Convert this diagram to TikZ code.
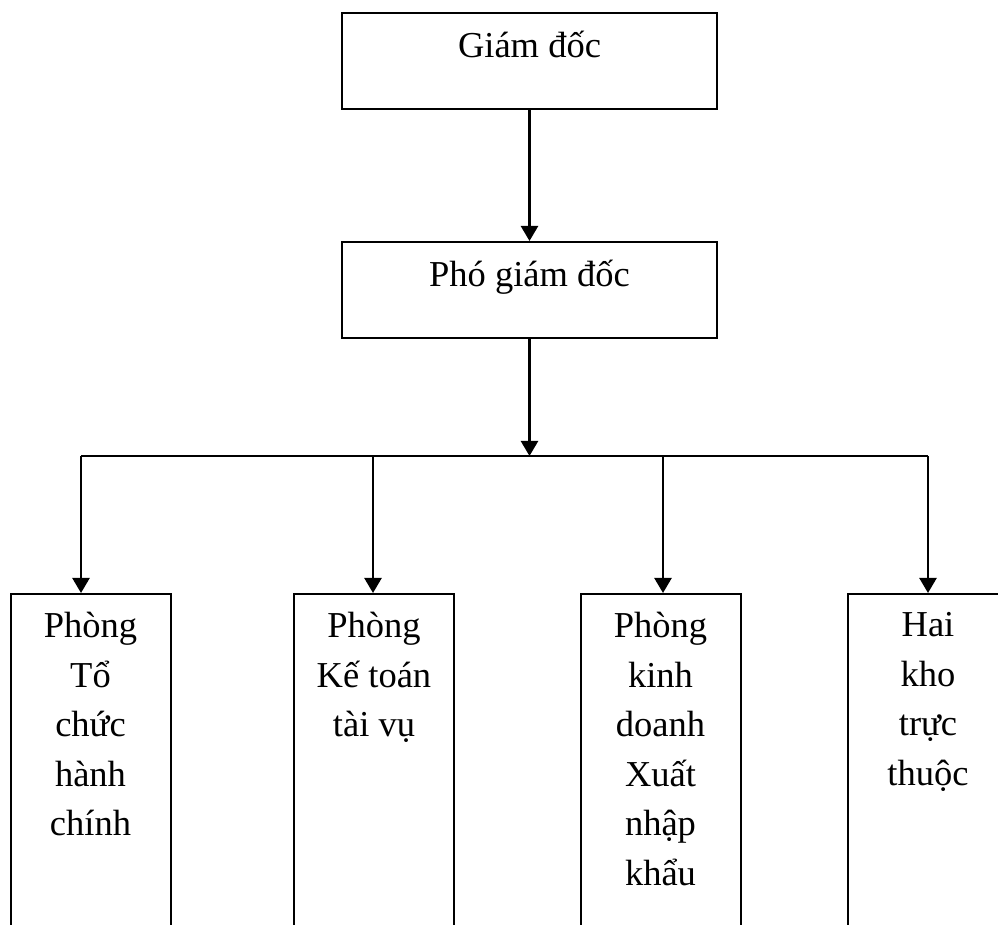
\documentclass[tikz,border=0pt]{standalone}
\usepackage{fontspec}
\setmainfont{Liberation Serif}
\usetikzlibrary{arrows.meta,positioning}

\begin{document}
\begin{tikzpicture}[x=0.5pt,y=-0.5pt,
    box/.style={draw,line width=1pt,minimum width=187.5pt,inner sep=0pt,text height=22.5pt,text depth=25.5pt,font=\fontsize{18.25}{24.75}\selectfont,anchor=north},
    dept/.style={draw,line width=1pt,minimum width=80pt,minimum height=200pt,inner sep=0pt,anchor=north},
    depttext/.style={text width=78pt,align=flush center,inner sep=0pt,font=\fontsize{18.25}{24.75}\selectfont},
    arr/.style={-{Triangle[width=8.5pt,length=7.5pt]},line width=1.2pt},
    bus/.style={line width=1.2pt}
]
\useasboundingbox (0,0) rectangle (998,925);
\clip (0,0) rectangle (998,925);

\node[box] (GD) at (529.5,12) {Giám đốc};
\node[box] (PGD) at (529.5,241) {Phó giám đốc};

\node[dept] (TC) at (90.5,593) {};
\node[dept] (KT) at (374,593) {};
\node[dept] (KD) at (660.5,593) {};
\node[dept] (KHO) at (928,593) {};

\node[depttext,below=9.5pt of TC.north] (TCtext) {Phòng\\Tổ\\chức\\hành\\chính};
\node[depttext,below=9.5pt of KT.north] (KTtext) {Phòng\\Kế toán\\tài vụ};
\node[depttext,below=9.5pt of KD.north] (KDtext) {Phòng\\kinh\\doanh\\Xuất\\nhập\\khẩu};
\node[depttext,below=9.5pt of KHO.north] (KHOtext) {Hai\\kho\\trực\\thuộc};

% bus line
\coordinate (J) at (529.5,456);
\coordinate (J1) at (81,456);
\coordinate (J2) at (373,456);
\coordinate (J3) at (663,456);
\coordinate (J4) at (928,456);

\draw[arr] (GD) -- (PGD);
\draw[arr] (PGD) -- (J);
\draw[bus] (J1) -- (J4);
\draw[arr] (J1) -- (J1 |- TC.north);
\draw[arr] (J2) -- (J2 |- KT.north);
\draw[arr] (J3) -- (J3 |- KD.north);
\draw[arr] (J4) -- (J4 |- KHO.north);
\end{tikzpicture}
\end{document}
